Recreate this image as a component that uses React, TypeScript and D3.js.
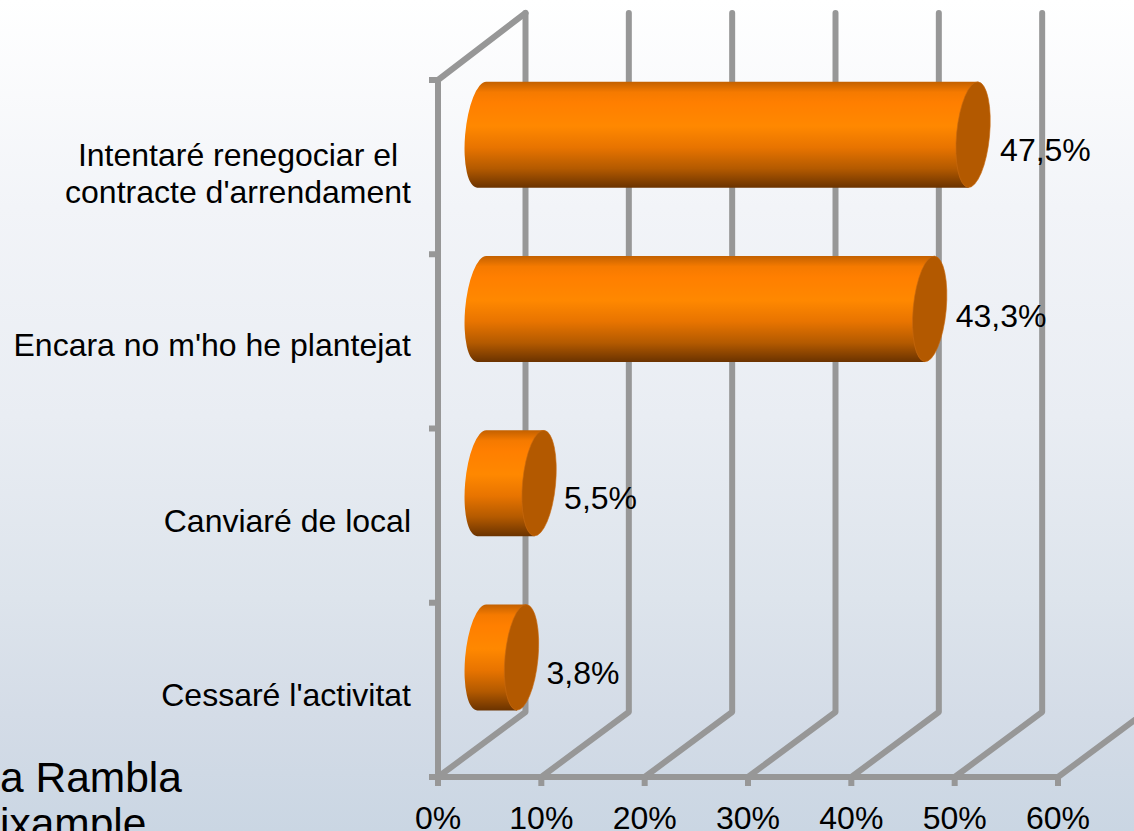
import * as d3 from 'd3';

const categories = ['Intentaré renegociar el|contracte d\'arrendament', 'Encara no m\'ho he plantejat', 'Canviaré de local', 'Cessaré l\'activitat'];
const values = [47.5, 43.3, 5.5, 3.8];
const valueLabels = ['47,5%', '43,3%', '5,5%', '3,8%'];
const xTicks = [0, 10, 20, 30, 40, 50, 60];
const footerLines = ['a Rambla', 'ixample'];

const W = 1134;
const H = 831;
const DEPTH_X = 87.5;
const DEPTH_Y = 65;
const GRID = '#979797';
const FONT = '"Liberation Sans", Arial, sans-serif';

const x = d3.scaleLinear().domain([0, 60]).range([438, 1058]);
const y = d3.scaleBand().domain(categories).range([80, 777]).paddingInner(0).paddingOuter(0);

// cylinder shape
const RX = 16.5;
const RY = 53;
const TILT = 5.4;
const SHEAR = 4.5;

// the value labels don't sit at a fixed offset in the original
const labelDy = [26, 18, 26, 27];
const labelDx = [27, 26, 25, 25];
const catDy = [0, 15, 16.5, 16];

const App = () => {
  const floorY = y.range()[1];
  const topY = y.range()[0];
  const backY = floorY - DEPTH_Y;
  const backTop = topY - 67;
  const yTicks = [...categories.map((c) => y(c)), floorY];

  return (
    <svg width={W} height={H} viewBox={`0 0 ${W} ${H}`} style={{ position: 'fixed', left: 0, top: 0, display: 'block' }}>
      <defs>
        <linearGradient id="bg" x1="0" x2="0" y1="0" y2="1">
          <stop offset="0" stopColor="#ffffff" />
          <stop offset="0.25" stopColor="#f2f4f8" />
          <stop offset="0.5" stopColor="#e9edf3" />
          <stop offset="0.72" stopColor="#dde4ec" />
          <stop offset="0.86" stopColor="#d4dce7" />
          <stop offset="1" stopColor="#cad6e3" />
        </linearGradient>
        <linearGradient id="cyl" x1="0" x2="0" y1="0" y2="1">
          <stop offset="0" stopColor="#c26000" />
          <stop offset="0.1" stopColor="#f57a00" />
          <stop offset="0.2" stopColor="#ff7f00" />
          <stop offset="0.42" stopColor="#ff8800" />
          <stop offset="0.62" stopColor="#e87400" />
          <stop offset="0.82" stopColor="#b45a00" />
          <stop offset="1" stopColor="#6b3300" />
        </linearGradient>
      </defs>
      <rect width={W} height={H} fill="url(#bg)" />

      <g stroke={GRID} strokeWidth={6} fill="none" strokeLinecap="round" strokeLinejoin="round">
        {xTicks.map((t) => (
          <path
            key={t}
            d={`M${x(t)},${floorY}L${x(t) + DEPTH_X},${backY}L${x(t) + DEPTH_X},${backTop}`}
          />
        ))}
        <path d={`M${x(0)},${topY}L${x(0) + DEPTH_X},${backTop}`} />
      </g>
      <g stroke={GRID} strokeWidth={6} fill="none">
        <path d={`M${x(0)},${topY}V${floorY}H${x(60)}`} />
        {yTicks.map((t, i) => (
          <line key={i} x1={x(0) - 9} x2={x(0)} y1={t} y2={t} />
        ))}
        {xTicks.map((t) => (
          <line key={t} x1={x(t)} x2={x(t)} y1={floorY} y2={floorY + 9} />
        ))}
      </g>

      {categories.map((c, i) => {
        const cy = y(c) + y.bandwidth() / 2 - DEPTH_Y / 2;
        const x0 = x(0) + DEPTH_X / 2;
        const x1 = x0 + x(values[i]) - x(0) + 0.5;
        const body = `M${x0 + SHEAR},${cy - RY}A${RX},${RY} ${TILT} 0 0 ${x0 - SHEAR},${cy + RY}L${x1 - SHEAR},${cy + RY}L${x1 + SHEAR},${cy - RY}Z`;
        return (
          <g key={c}>
            <path d={body} fill="url(#cyl)" />
            <ellipse
              cx={x1}
              cy={cy}
              rx={RX}
              ry={RY}
              transform={`rotate(${TILT} ${x1} ${cy})`}
              fill="#b35900"
              stroke="#c96a10"
              strokeWidth={0.6}
            />
            <text x={x1 + labelDx[i]} y={cy + labelDy[i]} fontSize={32} fontFamily={FONT} fill="#000">
              {valueLabels[i]}
            </text>
          </g>
        );
      })}

      {categories.map((c, i) => {
        const lines = c.split('|');
        const cy = y(c) + y.bandwidth() / 2;
        if (lines.length > 1) {
          return (
            <text key={c} fontSize={32} fontFamily={FONT} fill="#000" textAnchor="middle">
              {lines.map((l, j) => (
                <tspan key={l} x={238} y={cy + (j === 0 ? -1 : 36)}>
                  {l}
                </tspan>
              ))}
            </text>
          );
        }
        return (
          <text key={c} x={411} y={cy + catDy[i]} fontSize={32} fontFamily={FONT} fill="#000" textAnchor="end">
            {c}
          </text>
        );
      })}

      {xTicks.map((t) => (
        <text key={t} x={x(t)} y={829} fontSize={32} fontFamily={FONT} fill="#000" textAnchor="middle">
          {`${t}%`}
        </text>
      ))}

      {footerLines.map((l, i) => (
        <text key={l} x={0} y={792 + i * 46} fontSize={42.5} fontFamily={FONT} fill="#000">
          {l}
        </text>
      ))}
    </svg>
  );
};

export default App;
